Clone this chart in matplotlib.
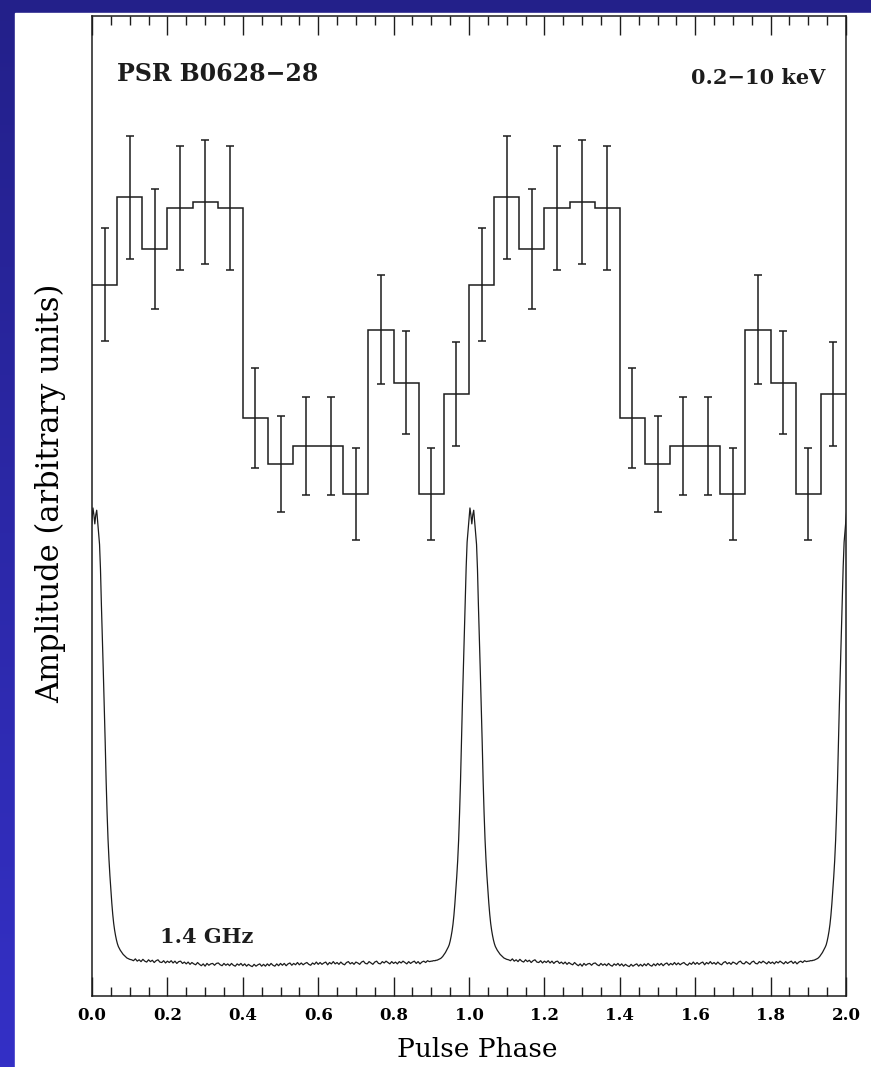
import numpy as np
import matplotlib
matplotlib.use('Agg')
import matplotlib.pyplot as plt
from matplotlib.patches import Rectangle
from matplotlib.ticker import MultipleLocator, FormatStrFormatter

# X-ray light curve, 15 bins per rotation (arbitrary units)
xray_level = [7.26, 8.15, 7.62, 8.04, 8.10, 8.04, 5.90, 5.43,
              5.61, 5.61, 5.12, 6.80, 6.26, 5.12, 6.14]
xray_err = [0.58, 0.63, 0.61, 0.63, 0.63, 0.63, 0.51, 0.49,
            0.50, 0.50, 0.47, 0.56, 0.53, 0.47, 0.53]
n_cycles = 2

# 1.4 GHz radio profile, normalised to peak = 1
# peak part sampled every 0.0025 in phase from -0.1 to 0.1
radio_peak = [
    0.004, 0.004, 0.005, 0.005, 0.005, 0.006, 0.006, 0.007, 0.008, 0.009,
    0.010, 0.012, 0.014, 0.017, 0.020, 0.023, 0.027, 0.031, 0.035, 0.040,
    0.048, 0.058, 0.070, 0.085, 0.105, 0.130, 0.160, 0.190, 0.225, 0.270,
    0.330, 0.400, 0.490, 0.570, 0.645, 0.720, 0.790, 0.870, 0.925, 0.950,
    0.975, 1.000, 0.985, 0.965, 0.985, 0.995, 0.970, 0.945, 0.920, 0.865,
    0.785, 0.715, 0.640, 0.565, 0.485, 0.400, 0.330, 0.272, 0.228, 0.192,
    0.162, 0.132, 0.107, 0.087, 0.072, 0.060, 0.050, 0.042, 0.036, 0.032,
    0.028, 0.025, 0.022, 0.019, 0.017, 0.015, 0.013, 0.011, 0.010, 0.009,
    0.008]
# off-pulse part sampled every 0.005 from 0.105 to 0.895
radio_base = [
    0.007, 0.005, 0.009, 0.004, 0.007, 0.003, 0.008, 0.004, 0.002, 0.007,
    0.003, 0.006, 0.001, 0.005, 0.007, 0.002, 0.001, 0.005, 0.000, 0.004,
    0.001, 0.005, 0.000, 0.004, -0.001, 0.003, 0.004, -0.001, 0.002, -0.002,
    0.002, -0.003, 0.001, -0.002, -0.004, 0.001, -0.003, -0.006, -0.002, -0.007,
    -0.001, -0.005, -0.002, -0.001, -0.005, -0.001, 0.000, -0.004, -0.006, -0.001,
    -0.005, -0.002, -0.006, -0.001, -0.005, -0.007, -0.002, -0.005, -0.001, -0.006,
    -0.002, -0.007, -0.003, -0.006, -0.008, -0.003, -0.007, -0.004, -0.002, -0.007,
    -0.003, -0.007, -0.002, -0.006, -0.001, -0.005, -0.007, -0.002, -0.006, -0.001,
    -0.005, -0.001, -0.006, -0.002, 0.000, -0.005, -0.001, -0.004, 0.001, -0.004,
    0.000, -0.004, -0.001, 0.001, -0.003, -0.005, 0.000, -0.003, 0.002, -0.003,
    0.001, -0.003, 0.000, 0.002, -0.004, 0.001, -0.002, 0.003, -0.002, 0.001,
    -0.003, 0.002, -0.002, -0.004, 0.001, 0.003, -0.002, 0.001, -0.003, 0.002,
    0.000, -0.003, 0.002, 0.004, -0.001, -0.002, 0.003, 0.000, -0.003, 0.002,
    0.004, -0.001, -0.002, 0.003, 0.000, 0.004, 0.001, -0.002, 0.003, -0.001,
    0.002, -0.002, 0.003, 0.000, 0.004, 0.001, -0.002, 0.003, -0.001, 0.002,
    0.004, -0.001, 0.003, -0.002, 0.002, 0.004, 0.001, 0.005, 0.003]
radio_offset = 0.337
radio_scale = 4.643

ink = '#1c1c1c'
plt.rcParams['font.family'] = ['DejaVu Serif']

# build plotting arrays
edges = np.linspace(0, n_cycles, 15 * n_cycles + 1)
centers = 0.5 * (edges[:-1] + edges[1:])
level = np.tile(xray_level, n_cycles)
err = np.tile(xray_err, n_cycles)

one_phase = np.concatenate([-0.1 + 0.0025 * np.arange(len(radio_peak)),
                            0.105 + 0.005 * np.arange(len(radio_base))])
one_amp = np.concatenate([radio_peak, radio_base])
rphase = np.concatenate([one_phase + k for k in range(n_cycles + 1)])
ramp = np.tile(one_amp, n_cycles + 1) * radio_scale + radio_offset

fig = plt.figure(figsize=(8.71, 10.67), dpi=100)

# slide-style blue frame
bg = fig.add_axes([0, 0, 1, 1])
bg.axis('off')
grad = np.linspace(0, 1, 256).reshape(-1, 1)
cmap = matplotlib.colors.LinearSegmentedColormap.from_list('frame', ['#23208a', '#3430c6'])
bg.imshow(grad, aspect='auto', cmap=cmap, extent=[0, 1, 0, 1], origin='upper')
bg.set_xlim(0, 1)
bg.set_ylim(0, 1)
bg.add_patch(Rectangle((15 / 871, 0), 1, 1 - 13 / 1067, color='white', zorder=2))

ax = fig.add_axes([92 / 871, 71 / 1067, 754 / 871, 980 / 1067])
ax.set_facecolor('white')

ax.stairs(level, edges, baseline=None, color=ink, lw=1.1)
ax.errorbar(centers, level, yerr=err, fmt='none', ecolor=ink,
            elinewidth=1.1, capsize=2.9, capthick=1.1)
ax.plot(rphase, ramp, color=ink, lw=0.9)

ax.set_xlim(0, 2)
ax.set_ylim(0, 10)

ax.xaxis.set_major_locator(MultipleLocator(0.2))
ax.xaxis.set_minor_locator(MultipleLocator(0.05))
ax.xaxis.set_major_formatter(FormatStrFormatter('%.1f'))
ax.tick_params(axis='x', which='both', direction='in', top=True, bottom=True,
               width=1, color=ink, labelsize=12, pad=8)
ax.tick_params(axis='x', which='major', length=13.7)
ax.tick_params(axis='x', which='minor', length=6.5)
ax.tick_params(axis='y', left=False, right=False, labelleft=False)
for lab in ax.get_xticklabels():
    lab.set_fontweight('bold')
for sp in ax.spines.values():
    sp.set_color(ink)
    sp.set_linewidth(1.1)

ax.set_xlabel('Pulse Phase', fontsize=19)
ax.xaxis.set_label_coords(0.511, -0.042)
ax.set_ylabel('Amplitude (arbitrary units)', fontsize=22)
ax.yaxis.set_label_coords(-0.034, 0.513)

ax.text(0.066, 9.41, 'PSR B0628\u221228', fontsize=17, fontweight='bold',
        ha='left', va='center', color=ink)
ax.text(1.944, 9.37, '0.2\u221210 keV', fontsize=15, fontweight='bold',
        ha='right', va='center', color=ink)
ax.text(0.18, 0.597, '1.4 GHz', fontsize=15, fontweight='bold',
        ha='left', va='center', color=ink)

fig.savefig('out.png', dpi=100)
